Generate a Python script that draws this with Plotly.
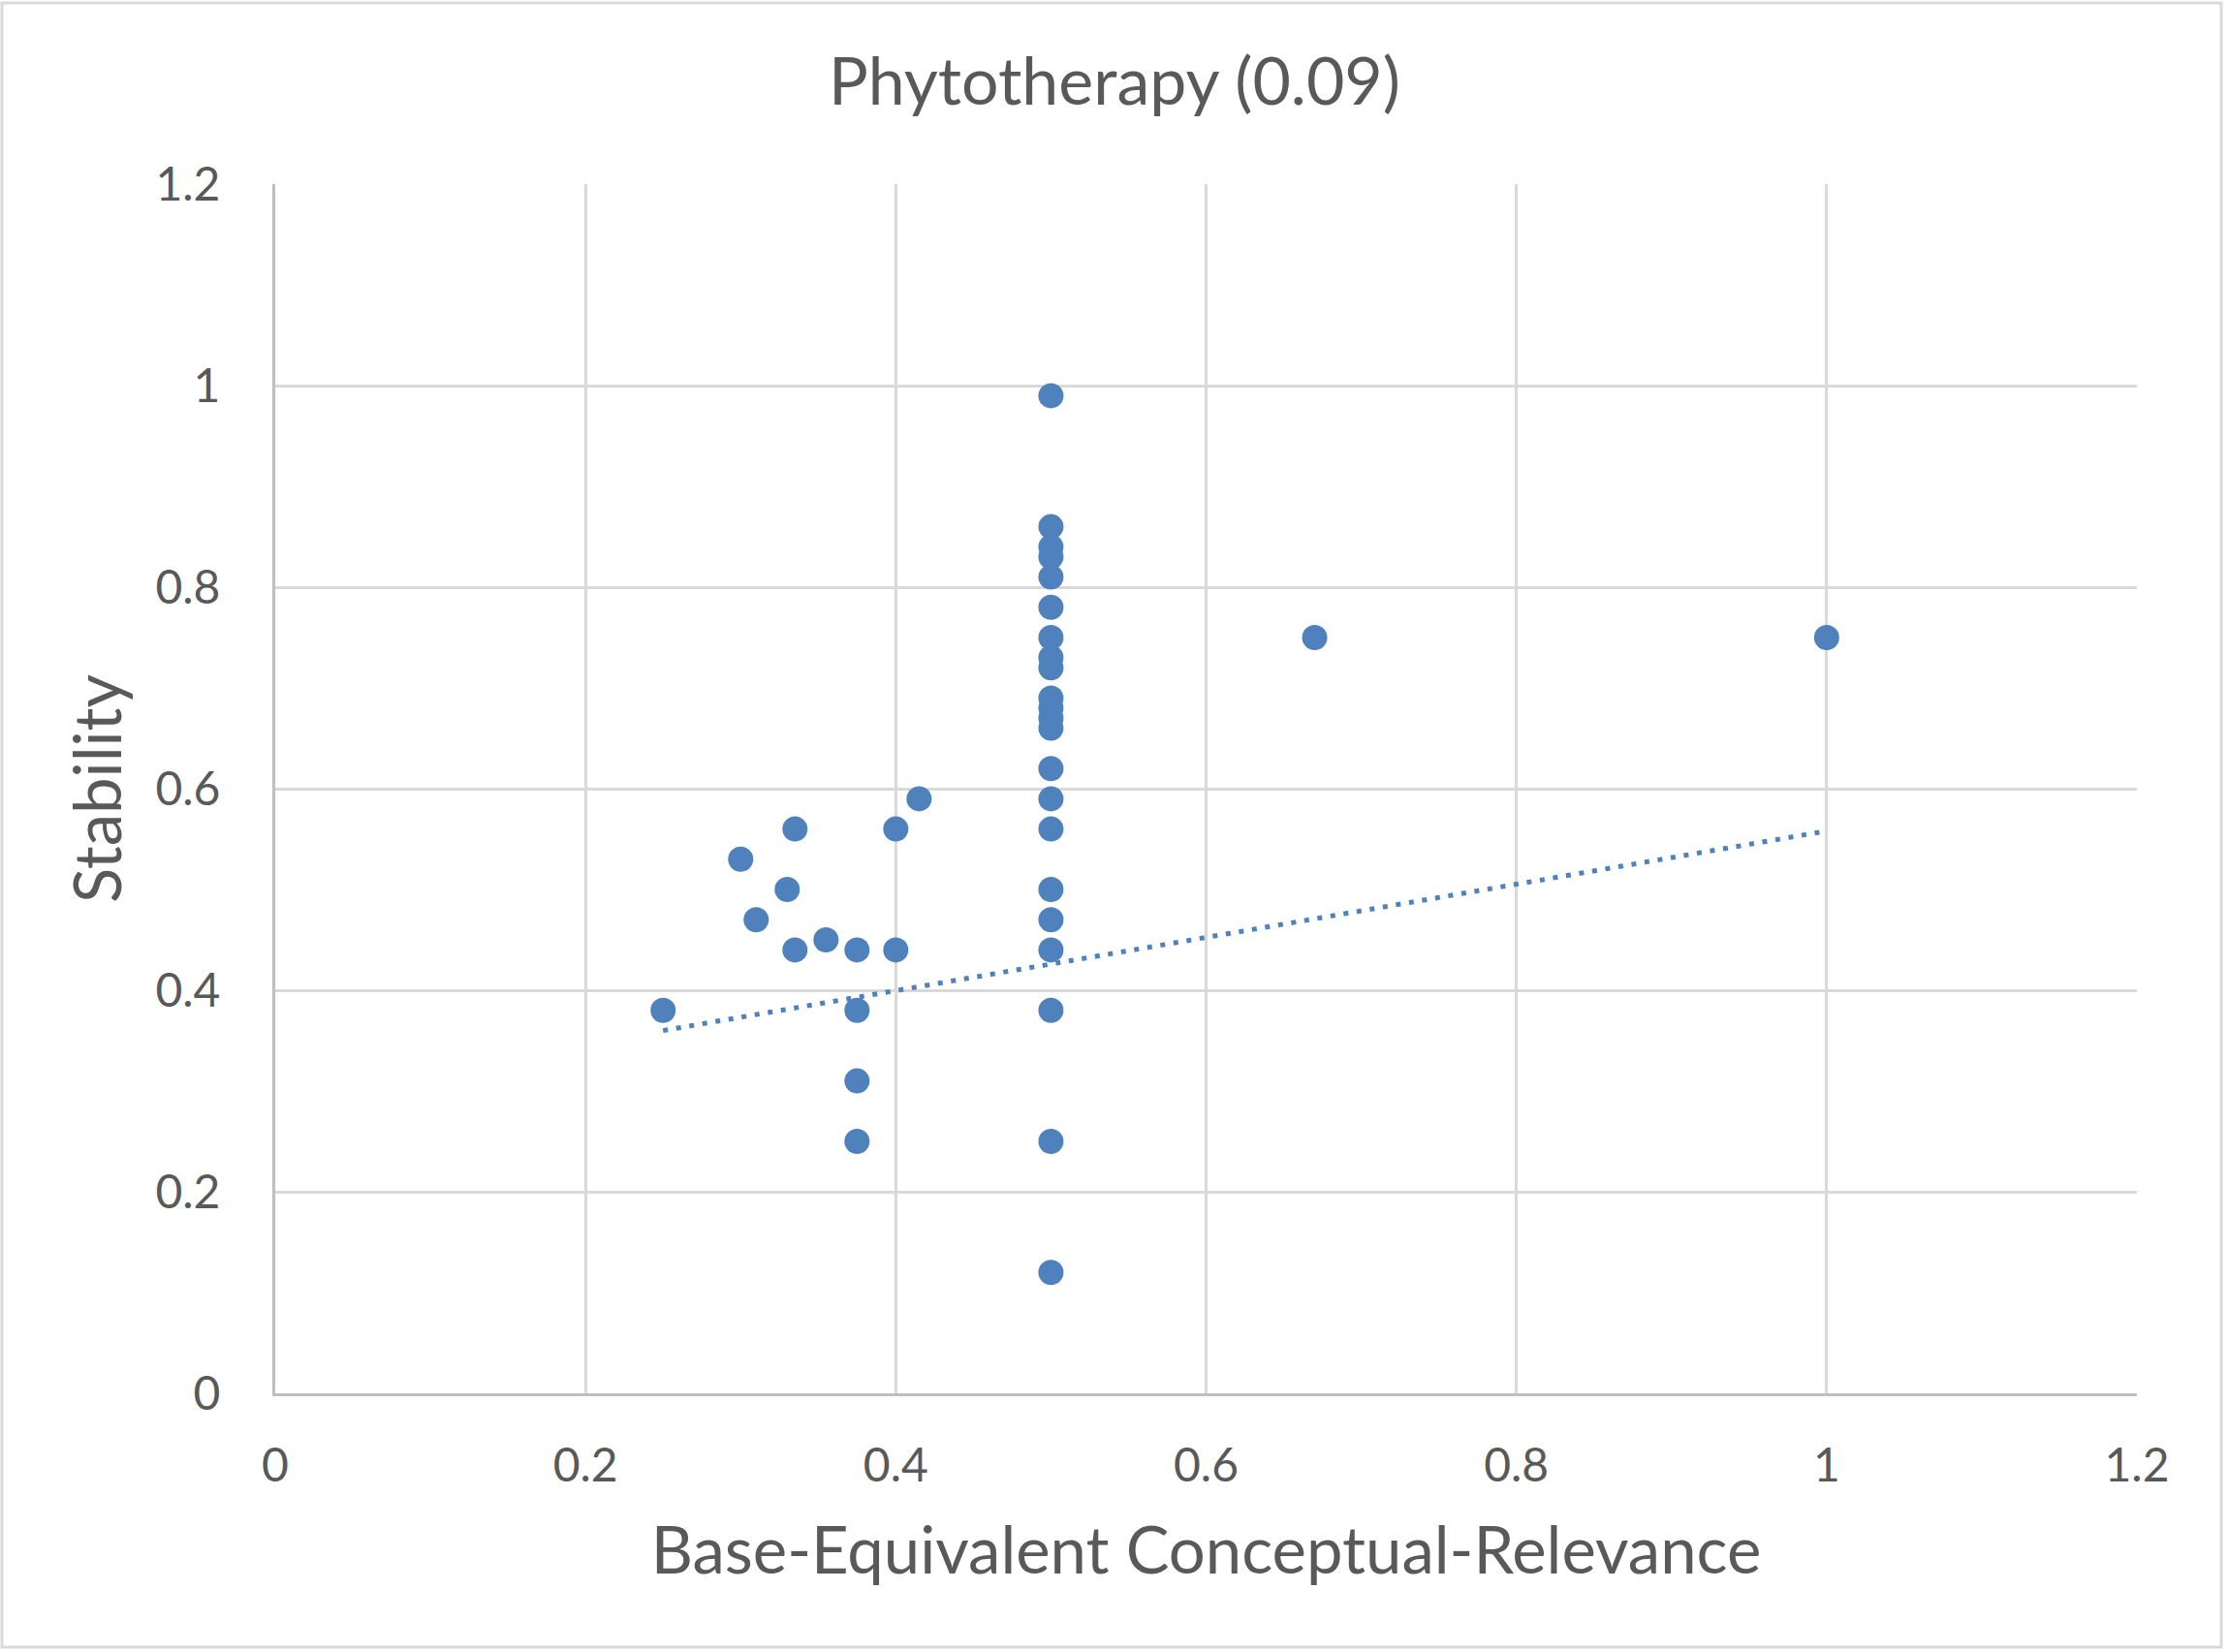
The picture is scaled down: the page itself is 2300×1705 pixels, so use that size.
import plotly.graph_objects as go

# scatter values
relevance = [0.5] * 22 + [0.375] * 4 + [0.25, 0.30, 0.31, 0.33, 0.335, 0.335, 0.355, 0.40, 0.40, 0.415, 0.67, 1.0]
stability = [0.99, 0.86, 0.84, 0.83, 0.81, 0.78, 0.75, 0.73, 0.72, 0.69, 0.68, 0.67, 0.66,
             0.62, 0.59, 0.56, 0.50, 0.47, 0.44, 0.38, 0.25, 0.12,
             0.44, 0.38, 0.31, 0.25,
             0.38, 0.53, 0.47, 0.50, 0.56, 0.44, 0.45, 0.56, 0.44, 0.59, 0.75, 0.75]

# linear trendline as drawn (end points)
trend_x = [0.25, 1.0]
trend_y = [0.36, 0.558]

azul = "#4f81bd"
gris_texto = "#595959"
fuente = "Lato"

fig = go.Figure()

fig.add_trace(go.Scatter(
    x=relevance,
    y=stability,
    mode="markers",
    marker=dict(size=26, color=azul),
    name="Phytotherapy"))

fig.add_trace(go.Scatter(
    x=trend_x,
    y=trend_y,
    mode="lines",
    line=dict(color=azul, width=5, dash="5px,8.7px"),
    name="Linear"))

fig.update_layout(
    width=2300,
    height=1705,
    margin=dict(l=284, r=95, t=190, b=267),
    paper_bgcolor="white",
    plot_bgcolor="white",
    showlegend=False,
    font=dict(family=fuente, color=gris_texto),
    title=dict(
        text="Phytotherapy (0.09)",
        x=0.5, xref="container", xanchor="center",
        y=1 - 84 / 1705, yref="container", yanchor="middle",
        font=dict(size=68, color=gris_texto, family=fuente)),
    xaxis=dict(
        range=[0, 1.2],
        tick0=0, dtick=0.2,
        showgrid=True, gridcolor="#d9d9d9", gridwidth=3,
        showline=True, linecolor="#bfbfbf", linewidth=3,
        zeroline=False,
        ticks="", ticklabelstandoff=30,
        tickfont=dict(size=48, color=gris_texto),
        title=dict(text="Base-Equivalent Conceptual-Relevance",
                   font=dict(size=67, color=gris_texto), standoff=40)),
    yaxis=dict(
        range=[0, 1.2],
        tick0=0, dtick=0.2,
        showgrid=True, gridcolor="#d9d9d9", gridwidth=3,
        showline=True, linecolor="#bfbfbf", linewidth=3,
        zeroline=False,
        ticks="", ticklabelstandoff=44,
        tickfont=dict(size=48, color=gris_texto),
        title=dict(text="Stability",
                   font=dict(size=67, color=gris_texto), standoff=13)),
)

# borde del área del gráfico
fig.add_shape(
    type="rect", xref="paper", yref="paper",
    x0=(2 - 284) / 1921, x1=(2292 - 284) / 1921,
    y0=(1438 - 1700) / 1248, y1=(1438 - 3) / 1248,
    line=dict(color="#d9d9d9", width=3), layer="below")

# sin margen en el body para que el gráfico empiece en (0, 0)
fig.write_html("out.html",
               config={"displayModeBar": False},
               post_script="document.body.style.margin = '0';")
